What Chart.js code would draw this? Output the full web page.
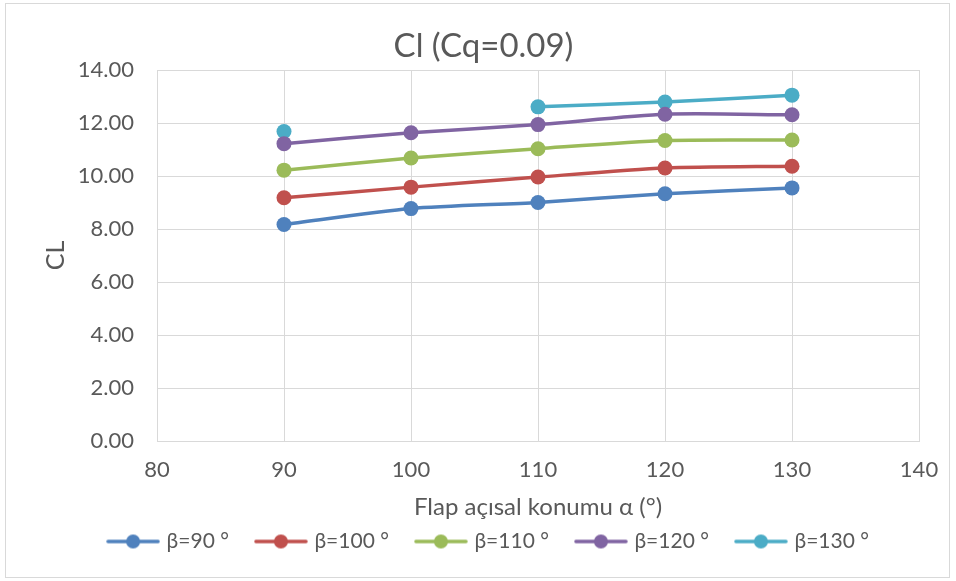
<!DOCTYPE html>
<html>
<head>
<meta charset="utf-8">
<script src="https://cdn.jsdelivr.net/npm/chart.js@4/dist/chart.umd.min.js"></script>
<style>
    html, body { margin: 0; padding: 0; background: #fff; }
    #wrap { width: 956px; height: 581px; }
</style>
</head>
<body>
<div id="wrap"><canvas id="myChart" width="956" height="581"></canvas></div>
<script>
// Data
const alphaValues = [90, 100, 110, 120, 130];
const beta90 = [8.17, 8.77, 9.0, 9.33, 9.55];
const beta100 = [9.18, 9.58, 9.96, 10.3, 10.37];
const beta110 = [10.22, 10.68, 11.03, 11.34, 11.36];
const beta120 = [11.22, 11.63, 11.94, 12.33, 12.31];
const beta130 = [11.68, null, 12.61, 12.79, 13.05];
const seriesLabels = ["β=90 °", "β=100 °", "β=110 °", "β=120 °", "β=130 °"];
const xTicks = [80, 90, 100, 110, 120, 130, 140];
const yTicks = [0, 2, 4, 6, 8, 10, 12, 14];

const colors = ["#4F81BD", "#C0504D", "#9BBB59", "#8064A2", "#4BACC6"];
const allSeries = [beta90, beta100, beta110, beta120, beta130];
const FONT = "Lato, 'Noto Sans', sans-serif";
const GREY = "#595959";

Chart.defaults.font.family = FONT;

// small canvas used as legend marker: line with a dot in the middle
function legendMarker(color) {
    const c = document.createElement("canvas");
    c.width = 54;
    c.height = 16;
    const g = c.getContext("2d");
    g.strokeStyle = color;
    g.lineWidth = 3.5;
    g.lineCap = "round";
    g.beginPath();
    g.moveTo(2, 8);
    g.lineTo(52, 8);
    g.stroke();
    g.fillStyle = color;
    g.beginPath();
    g.arc(27, 8, 7, 0, Math.PI * 2);
    g.fill();
    return c;
}

const datasets = allSeries.map((vals, i) => ({
    label: seriesLabels[i],
    data: alphaValues.map((a, j) => ({ x: a, y: vals[j] })),
    borderColor: colors[i],
    backgroundColor: colors[i],
    borderWidth: 3.5,
    pointRadius: 7.5,
    pointHoverRadius: 7.5,
    pointBorderWidth: 0,
    tension: 0.25,
    spanGaps: false,
}));

// frame round the whole chart + move title/legend to where Excel puts them
const framePlugin = {
    id: "frame",
    afterLayout(chart) {
        const lg = chart.legend;
        lg.left += 30;
        lg.right += 30;
        lg.top -= 20;
        lg.bottom -= 20;
        const tb = chart.titleBlock;
        tb.left += 24;
        tb.right += 24;
    },
    beforeDraw(chart) {
        const ctx = chart.ctx;
        ctx.save();
        ctx.fillStyle = "#fff";
        ctx.fillRect(0, 0, chart.width, chart.height);
        ctx.strokeStyle = "#d9d9d9";
        ctx.lineWidth = 1;
        ctx.strokeRect(5.5, 3.5, 944, 574);
        ctx.restore();
    },
};

new Chart(document.getElementById("myChart"), {
    type: "line",
    data: { datasets },
    plugins: [framePlugin],
    options: {
        responsive: false,
        animation: false,
        events: [],
        layout: { padding: { left: 0, right: 37, top: 0, bottom: -1 } },
        plugins: {
            title: {
                display: true,
                text: "Cl (Cq=0.09)",
                color: GREY,
                font: { size: 33, weight: "normal", family: FONT },
                padding: { top: 27, bottom: 3.4 },
            },
            legend: {
                position: "bottom",
                labels: {
                    usePointStyle: true,
                    pointStyleWidth: 46,
                    color: GREY,
                    font: { size: 21, family: FONT },
                    padding: 29,
                    generateLabels: (chart) =>
                        chart.data.datasets.map((ds, i) => ({
                            text: ds.label,
                            pointStyle: legendMarker(colors[i]),
                            fillStyle: colors[i],
                            strokeStyle: colors[i],
                            fontColor: GREY,
                            lineWidth: 0,
                            datasetIndex: i,
                        })),
                },
            },
            tooltip: { enabled: false },
        },
        scales: {
            x: {
                type: "linear",
                min: xTicks[0],
                max: xTicks[xTicks.length - 1],
                afterBuildTicks: (scale) => {
                    scale.ticks = xTicks.map((v) => ({ value: v }));
                },
                afterFit: (scale) => {
                    scale.height = 81;
                },
                grid: { color: "#d9d9d9", lineWidth: 1, drawTicks: false },
                border: { color: "#d9d9d9", width: 1 },
                ticks: {
                    color: GREY,
                    padding: 16,
                    font: { size: 22, family: FONT },
                },
                title: {
                    display: true,
                    text: "Flap açısal konumu α (°)",
                    color: GREY,
                    font: { size: 24, family: FONT },
                    padding: { top: -4, bottom: 0 },
                },
            },
            y: {
                min: yTicks[0],
                max: yTicks[yTicks.length - 1],
                afterBuildTicks: (scale) => {
                    scale.ticks = yTicks.map((v) => ({ value: v }));
                },
                afterFit: (scale) => {
                    scale.width = 157;
                },
                grid: { color: "#d9d9d9", lineWidth: 1, drawTicks: false },
                border: { color: "#d9d9d9", width: 1 },
                ticks: {
                    color: GREY,
                    padding: 23,
                    font: { size: 22, family: FONT },
                    callback: (v) => Number(v).toFixed(2),
                },
                title: {
                    display: true,
                    text: "CL",
                    color: GREY,
                    font: { size: 25, family: FONT },
                    padding: { top: 41, bottom: 0 },
                },
            },
        },
    },
});
</script>
</body>
</html>
